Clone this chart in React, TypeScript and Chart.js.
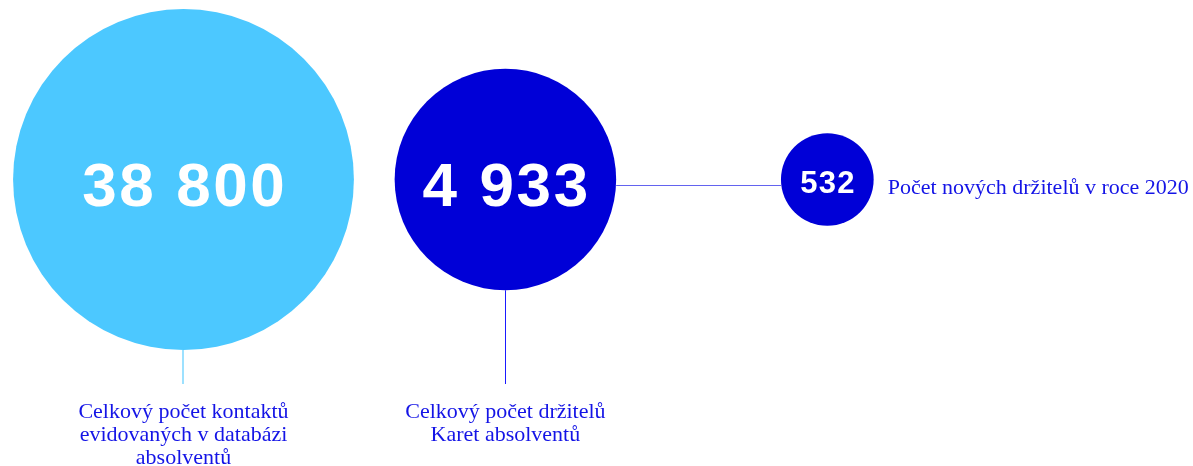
import React, { useEffect, useRef } from "react";
import { Chart, registerables } from "chart.js";

Chart.register(...registerables);

// ---- data ----
const categories = ["kontakty", "drzitele", "novi_drzitele"];
const values = [38800, 4933, 532];
const valueLabels = ["38 800", "4 933", "532"];
const captions: string[][] = [
  ["Celkový počet kontaktů", "evidovaných v databázi", "absolventů"],
  ["Celkový počet držitelů", "Karet absolventů"],
  ["Počet nových držitelů v roce 2020"],
];

// ---- styles ----
const bubbleColors = ["#4cc8ff", "#0000d7", "#0000d7"];
const textColor = "#1414e6";
const serif = '"Liberation Serif", "DejaVu Serif", serif';
const sans = '"Liberation Sans", Arial, sans-serif';

// radius scale (log of value -> pixels)
const radiusFor = (v: number) => 66.6 * Math.log10(v) - 135.2;

const overlayPlugin = {
  id: "overlay",
  afterDatasetsDraw(chart: any) {
    const meta = chart.getDatasetMeta(0);
    const els = meta.data;
    const ctx: CanvasRenderingContext2D = chart.ctx;
    const rad = (i: number) => radiusFor(values[i]);
    const connectorEnd = 384;
    ctx.save();
    // connector under bubble 1
    const e0 = els[0];
    ctx.strokeStyle = "rgba(76,200,255,0.55)";
    ctx.lineWidth = 2;
    ctx.beginPath();
    ctx.moveTo(Math.round(e0.x), e0.y + rad(0));
    ctx.lineTo(Math.round(e0.x), connectorEnd);
    ctx.stroke();
    // connector under bubble 2
    const e1 = els[1];
    ctx.strokeStyle = "#1a1aff";
    ctx.lineWidth = 1;
    ctx.beginPath();
    ctx.moveTo(Math.round(e1.x) + 0.5, e1.y + rad(1));
    ctx.lineTo(Math.round(e1.x) + 0.5, connectorEnd);
    ctx.stroke();
    // horizontal connector bubble 2 -> bubble 3
    const e2 = els[2];
    const hy = Math.round(e1.y + 6) + 0.5;
    ctx.strokeStyle = "rgba(60,60,235,0.8)";
    ctx.beginPath();
    ctx.moveTo(e1.x + rad(1), hy);
    ctx.lineTo(e2.x - rad(2), hy);
    ctx.stroke();

    // value labels
    const sizes = [62, 62, 31];
    const spacing = [2.6, 2.6, 1.3];
    els.forEach((el: any, i: number) => {
      const fs = sizes[i];
      const ls = spacing[i];
      ctx.font = `bold ${fs}px ${sans}`;
      ctx.fillStyle = "#ffffff";
      ctx.textBaseline = "alphabetic";
      ctx.textAlign = "left";
      const text = valueLabels[i];
      let w = 0;
      for (const ch of text) w += ctx.measureText(ch).width;
      w += ls * (text.length - 1);
      let x = el.x - w / 2;
      const base = el.y + (fs * 0.716) / 2 + (i < 2 ? 4 : 2);
      for (const ch of text) {
        ctx.fillText(ch, x, base);
        x += ctx.measureText(ch).width + ls;
      }
    });
    // captions
    ctx.font = `22px ${serif}`;
    ctx.fillStyle = textColor;
    ctx.textBaseline = "alphabetic";
    for (let i = 0; i < 2; i++) {
      const el = els[i];
      ctx.textAlign = "center";
      captions[i].forEach((line, k) => {
        ctx.fillText(line, el.x, 417.5 + k * 23.3);
      });
    }
    ctx.textAlign = "left";
    ctx.fillText(captions[2][0], e2.x + rad(2) + 14, e2.y + 14.5);
    ctx.restore();
  },
};

export default function App() {
  const ref = useRef<HTMLCanvasElement>(null);
  useEffect(() => {
    document.body.style.margin = "0";
    const chart = new Chart(ref.current!, {
      type: "bubble",
      data: {
        labels: categories,
        datasets: [
          {
            data: values.map((v, i) => ({ x: i, y: 0, r: radiusFor(v) })),
            backgroundColor: bubbleColors,
            borderWidth: 0,
            hoverRadius: 0,
            hoverBorderWidth: 0,
            clip: false as any,
          },
        ],
      },
      options: {
        animation: false,
        responsive: true,
        maintainAspectRatio: false,
        events: [],
        layout: { padding: 0, autoPadding: false },
        plugins: { legend: { display: false }, tooltip: { enabled: false } },
        scales: {
          x: { type: "linear", display: false, min: -0.57, max: 3.136 },
          y: { type: "linear", display: false, min: -1, max: 0.6265 },
        },
      },
      plugins: [overlayPlugin],
    });
    return () => chart.destroy();
  }, []);
  return (
    <div style={{ position: "relative", width: 1193, height: 466 }}>
      <canvas ref={ref} style={{ display: "block" }} />
    </div>
  );
}
